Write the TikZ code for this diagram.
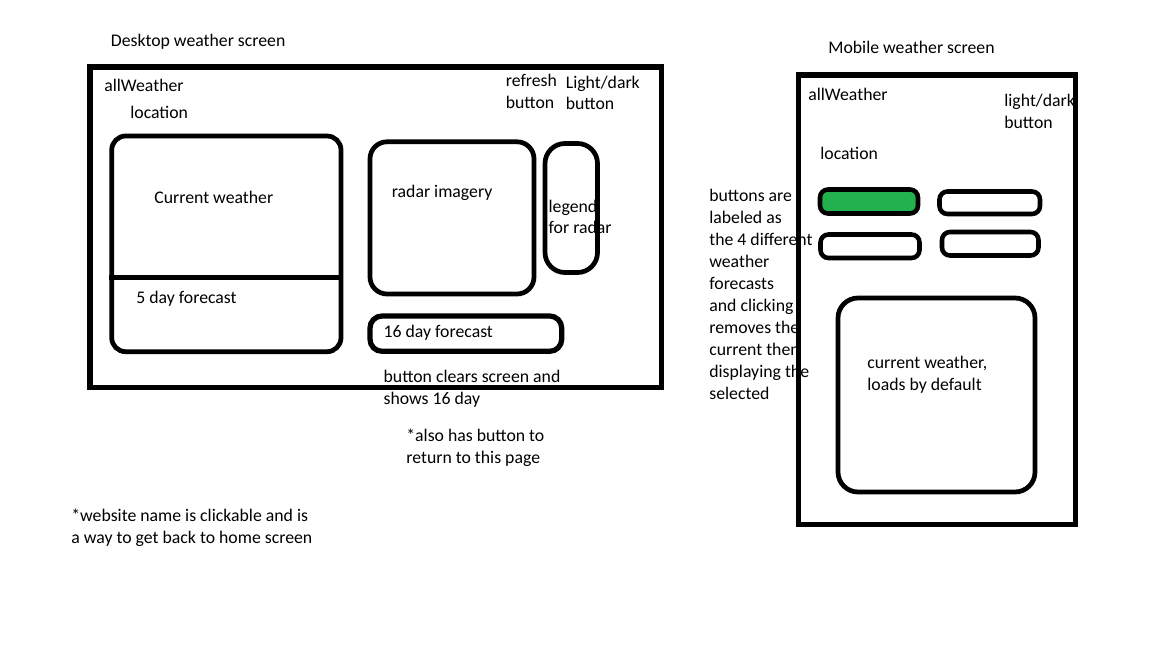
\documentclass[tikz,border=0pt]{standalone}
\usepackage{fontspec}
\setmainfont{Carlito}
\usepackage{tikz}
\usetikzlibrary{positioning,fit}
\definecolor{paintgreen}{RGB}{34,177,76}
\tikzstyle{frame} = [draw, line width=2.9pt, inner sep=0pt]
\tikzstyle{panel} = [draw, line width=2.7pt, inner sep=0pt, rounded corners=0.28cm]
\tikzstyle{tab} = [panel, line width=2.6pt, rounded corners=0.16cm]
\tikzstyle{note} = [anchor=base west, inner sep=0pt, align=left,
   font=\fontsize{10.1}{12.5}\selectfont]

\begin{document}
\begin{tikzpicture}[x=0.02cm, y=-0.02cm]

\fill[white] (0,0) rectangle (1152,648);
\useasboundingbox (0,0) rectangle (1152,648);

\node (dtitle) [note] at (110.5,46.5) {Desktop weather screen};

\node (dname) [note] at (104,91.5) {allWeather};

\node (dloc) [note] at (130,119) {location};

\node (refresh) [note] at (505.5,108.2) {refresh\\button};

\node (dmode) [note] at (565.5,110) {Light/dark\\button};

\node (curw) [panel, fit={(111.7,136) (341,351.7)}] {};

\coordinate (split) at (0,277.7);

\draw [line width=2.7pt] (curw.west |- split) -- (curw.east |- split);

\node (curwtxt) [note] at (154,203.5) {Current weather};

\node (fc5txt) [note] at (136,304) {5 day forecast};

\node (radar) [panel, rounded corners=0.34cm, fit={(370,141.8) (534,294)}] {};

\node (radartxt) [note] at (391.5,197.5) {radar imagery};

\node (legendtxt) [note] at (548.3,234) {legend\\for radar};

\node (legend) [panel, rounded corners=0.4cm, fit={(545,143.5) (597.5,272.5)}] {};

\node (fc16) [panel, line width=3pt, rounded corners=0.24cm, fit={(370,316) (561.7,351.3)}] {};

\node (fc16txt) [note] at (383.3,337.5) {16 day forecast};

\node (desk) [frame, fit={(90,67) (661.5,387.5)}] {};

\node (clears) [note] at (383.3,404) {button clears screen and\\shows 16 day};

\node (back) [note] at (406,463) {*also has button to\\return to this page};

\node (home) [note] at (71,543) {*website name is clickable and is\\a way to get back to home screen};

\node (mtitle) [note] at (828,53.5) {Mobile weather screen};

\node (mname) [note] at (808,100.5) {allWeather};

\node (mmode) [note] at (1004,128.5) {light/dark\\button};

\node (mloc) [note] at (820,159.5) {location};

\node (howto) [note] at (709,399) {buttons are\\labeled as\\the 4 different\\weather\\forecasts\\and clicking\\removes the\\current then\\displaying the\\selected};

\node (btn1) [tab, fill=paintgreen, fit={(820,189.5) (918,213.5)}] {};

\node (btn2) [tab, fit={(939.5,191.5) (1040,214)}] {};

\node (btn3) [tab, fit={(820.5,234.5) (919.5,258)}] {};

\node (btn4) [tab, fit={(942,232) (1038.5,255.5)}] {};

\node (mcur) [panel, rounded corners=0.4cm, fit={(838,298) (1035,492)}] {};

\node (mcurtxt) [note] at (867,390) {current weather,\\loads by default};

\node (mob) [frame, fit={(798.5,75) (1075.8,524.5)}] {};

\end{tikzpicture}
\end{document}
